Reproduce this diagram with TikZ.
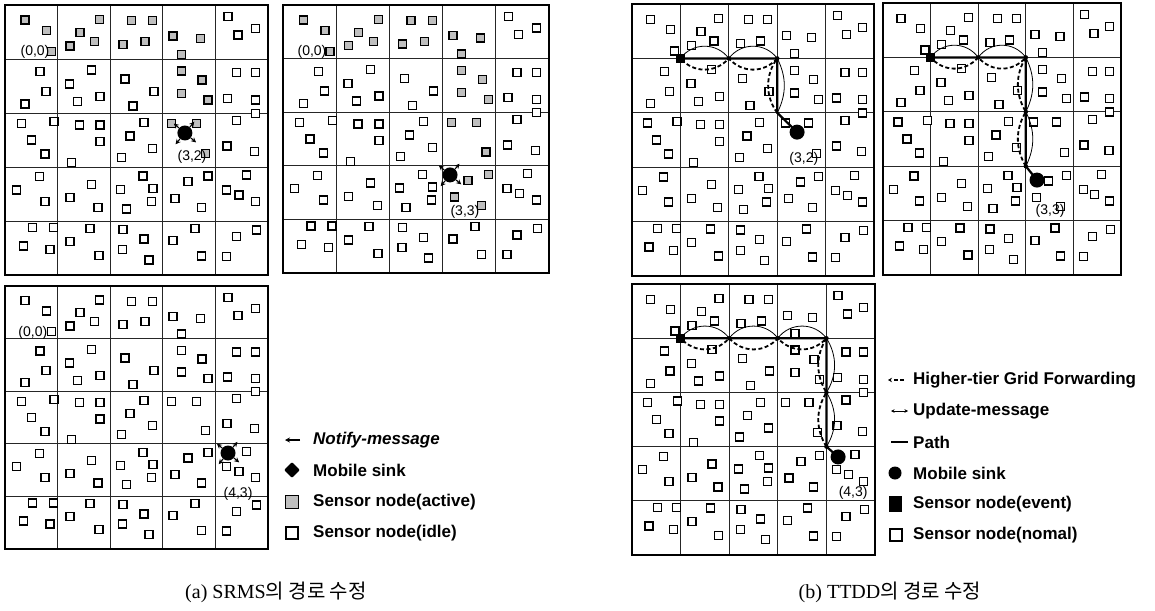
\documentclass[tikz,border=0pt]{standalone}
\usepackage{fontspec}
\setmainfont{Liberation Serif}
\setsansfont{Liberation Sans}
\newfontfamily\krfont{Noto Sans CJK KR}
\usetikzlibrary{arrows.meta,shapes.geometric}

% sensor layout of the field, in panel units (0..100)
\newcommand{\sensorlist}{7.6/5.6,15.8/9.5,17.7/17.3,35.8/5.3,28.5/10.2,33.9/13.6,24.7/15.2,48.1/5.8,56.1/5.8,53.2/13.6,44.9/14.6,63.9/11.5,74.3/12.3,67.1/18.3,84.8/4.3,95.3/8.6,88.6/11.1,
13.3/24.7,15.6/32.1,7.6/36.7,32.9/24.1,24.4/29.3,36.1/34.0,27.5/35.8,45.6/27.4,56.6/32.1,48.7/37.4,67.1/24.4,74.9/27.8,67.1/32.7,77.2/35.2,88.0/25.1,95.3/25.1,84.6/34.6,95.3/35.2,95.3/40.1,
6.3/43.8,18.6/43.2,10.1/50.0,15.2/55.2,28.2/44.4,36.1/44.4,36.1/50.6,25.3/58.4,52.8/43.6,47.5/48.5,56.1/53.1,44.3/56.4,63.3/43.8,72.8/43.8,76.3/54.9,88.0/42.8,84.4/52.2,94.9/54.3,
13.0/63.6,4.4/68.5,15.2/72.8,32.9/66.4,24.7/71.4,35.4/74.9,52.5/63.3,56.3/67.9,43.9/68.3,55.7/72.8,46.2/75.6,69.6/65.4,77.2/63.3,64.6/71.6,74.7/74.9,91.8/63.0,84.2/68.5,89.0/70.4,95.3/72.8,
10.5/82.5,18.4/82.5,7.0/89.3,17.1/90.5,32.3/82.7,24.7/87.7,35.7/92.7,44.9/83.1,52.8/86.7,44.7/90.5,54.8/94.4,72.2/82.7,63.9/87.3,74.7/93.0,95.6/83.3,88.0/85.8,84.2/93.2}

\newcommand{\sensors}[1]{%
  \foreach \u/\v in \sensorlist {\node[sensor,fill=#1] at (\u,\v) {};}%
}
\newcommand{\gridpanel}{%
  \foreach \k in {20,40,60,80} {%
    \draw[gridline] (\k,0) -- (\k,100);
    \draw[gridline] (0,\k) -- (100,\k);}%
  \draw[panelframe] (0,0) rectangle (100,100);%
}

\tikzset{
  sensor/.style={draw,line width=1.3pt,minimum size=8pt,inner sep=0pt},
  gridline/.style={line width=0.9pt,black!85},
  panelframe/.style={line width=2.8pt},
  sink/.style={circle,fill,minimum size=15pt,inner sep=0pt},
  notify/.style={-{Stealth[length=5pt,width=5pt]},line width=1.1pt},
  event/.style={fill,minimum size=9pt,inner sep=0pt},
  hop/.style={circle,fill,minimum size=4.5pt,inner sep=0pt},
  route/.style={line width=2.2pt},
  update/.style={line width=0.8pt},
  forward/.style={line width=1.8pt,dash pattern=on 4pt off 2.5pt},
  legendtext/.style={anchor=west,inner sep=0pt,font=\sffamily\bfseries\fontsize{17}{20}\selectfont},
  cellname/.style={inner sep=0pt,font=\sffamily\fontsize{14}{16}\selectfont},
  captext/.style={inner sep=0pt,font=\fontsize{20}{24}\selectfont}
}

\begin{document}
\begin{tikzpicture}[x=1pt,y=-1pt]
  \useasboundingbox (0,0) rectangle (1155,610);

  % (a) SRMS, sink at (3,2)
  \begin{scope}[shift={(5,5)},xscale=2.63,yscale=2.70]
    \gridpanel
    \sensors{white}
    \begin{scope}
      \clip (0,0) rectangle (80,20) (60,20) rectangle (80,60);
      \sensors{gray!50}
    \end{scope}
    \node[cellname] (a1o) at (11.4,17.4) {(0,0)};
    \node[sink] (a1sink) at (68.4,47.4) {};
    \foreach \a in {50,140,230,320} \draw[notify] (a1sink.\a) -- +(-\a:2.6);
    \node[cellname] (a1c) at (71.1,56.2) {(3,2)};
  \end{scope}

  % (a) SRMS, sink at (3,3)
  \begin{scope}[shift={(283,5)},xscale=2.66,yscale=2.68]
    \gridpanel
    \sensors{white}
    \begin{scope}
      \clip (0,0) rectangle (80,20) (60,20) rectangle (80,80);
      \sensors{gray!50}
    \end{scope}
    \node[cellname] (a2o) at (10.9,17.5) {(0,0)};
    \node[sink] (a2sink) at (62.8,63.4) {};
    \foreach \a in {50,140,230,320} \draw[notify] (a2sink.\a) -- +(-\a:2.6);
    \node[cellname] (a2c) at (68.4,77.2) {(3,3)};
  \end{scope}

  % (a) SRMS, sink at (4,3)
  \begin{scope}[shift={(5,286)},xscale=2.63,yscale=2.63]
    \gridpanel
    \sensors{white}
    \node[cellname] (a3o) at (10.6,17.9) {(0,0)};
    \node[sink] (a3sink) at (84.8,63.5) {};
    \foreach \a in {50,140,230,320} \draw[notify] (a3sink.\a) -- +(-\a:2.6);
    \node[cellname] (a3c) at (88.6,78.9) {(4,3)};
  \end{scope}

  % legend (a)
  \coordinate (la1) at (300,440);
  \coordinate (la1e) at (285,440);
  \draw[notify] (la1) -- (la1e);
  \node[diamond,fill,minimum size=16pt,inner sep=0pt,rounded corners=1pt] (la2) at (292,470) {};
  \node[sensor,fill=gray!50,minimum size=13pt] (la3) at (292,502) {};
  \node[sensor,fill=white,minimum size=12pt] (la4) at (292,533) {};
  \node[legendtext] at (313,440) {\itshape Notify-message};
  \node[legendtext] at (313,470) {Mobile sink};
  \node[legendtext] at (313,502) {Sensor node(active)};
  \node[legendtext] at (313,533) {Sensor node(idle)};

  % (b) TTDD, sink at (3,2)
  \begin{scope}[shift={(632,4)},xscale=2.42,yscale=2.72]
    \gridpanel
    \sensors{white}
    \coordinate (b1s) at (20,20);
    \coordinate (b1p1) at (40,20);
    \coordinate (b1p2) at (60,20);
    \coordinate (b1p3) at (60,40);
    \coordinate (b1k) at (68.2,47.1);
    \draw[route] (b1s) -- (b1p1) -- (b1p2) -- (b1p3) -- (b1k);
    \draw[update] (b1s) to[bend left=50] (b1p1) to[bend left=50] (b1p2) to[bend left=30] (b1p3);
    \draw[forward] (b1p3) to[bend left=40] (b1p2) to[bend left=45] (b1p1) to[bend left=45] (b1s);
    \node[event] (b1src) at (b1s) {};
    \node[hop] (b1h1) at (b1p1) {};
    \node[hop] (b1h2) at (b1p2) {};
    \node[sink] (b1sink) at (b1k) {};
    \node[cellname] (b1c) at (71,57) {(3,2)};
  \end{scope}

  % (b) TTDD, sink at (3,3)
  \begin{scope}[shift={(883,3)},xscale=2.38,yscale=2.72]
    \gridpanel
    \sensors{white}
    \coordinate (b2s) at (20,20);
    \coordinate (b2p1) at (40,20);
    \coordinate (b2p2) at (60,20);
    \coordinate (b2p3) at (60,40);
    \coordinate (b2p4) at (60,60);
    \coordinate (b2k) at (64.7,65.1);
    \draw[route] (b2s) -- (b2p1) -- (b2p2) -- (b2p3) -- (b2p4) -- (b2k);
    \draw[update] (b2s) to[bend left=50] (b2p1) to[bend left=50] (b2p2) to[bend left=30] (b2p3) to[bend left=30] (b2p4);
    \draw[forward] (b2p4) to[bend left=35] (b2p3) to[bend left=35] (b2p2) to[bend left=45] (b2p1) to[bend left=45] (b2s);
    \node[event] (b2src) at (b2s) {};
    \node[hop] (b2h1) at (b2p1) {};
    \node[hop] (b2h2) at (b2p2) {};
    \node[hop] (b2h3) at (b2p3) {};
    \node[hop] (b2h4) at (b2p4) {};
    \node[sink] (b2sink) at (b2k) {};
    \node[cellname] (b2c) at (70.2,76.5) {(3,3)};
  \end{scope}

  % (b) TTDD, sink at (4,3)
  \begin{scope}[shift={(632,284)},xscale=2.43,yscale=2.71]
    \gridpanel
    \sensors{white}
    \coordinate (b3s) at (20,20);
    \coordinate (b3p1) at (40,20);
    \coordinate (b3p2) at (60,20);
    \coordinate (b3p3) at (80,20);
    \coordinate (b3p4) at (80,40);
    \coordinate (b3p5) at (80,60);
    \coordinate (b3k) at (84.8,63.8);
    \draw[route] (b3s) -- (b3p1) -- (b3p2) -- (b3p3) -- (b3p4) -- (b3p5) -- (b3k);
    \draw[update] (b3s) to[bend left=50] (b3p1) to[bend left=50] (b3p2) to[bend left=50] (b3p3) to[bend left=35] (b3p4) to[bend left=35] (b3p5);
    \draw[forward] (b3p5) to[bend left=35] (b3p4) to[bend left=35] (b3p3) to[bend left=45] (b3p2) to[bend left=45] (b3p1) to[bend left=45] (b3s);
    \node[event] (b3src) at (b3s) {};
    \node[hop] (b3h1) at (b3p1) {};
    \node[hop] (b3h2) at (b3p2) {};
    \node[hop] (b3h3) at (b3p3) {};
    \node[hop] (b3h4) at (b3p4) {};
    \node[hop] (b3h5) at (b3p5) {};
    \node[sink] (b3sink) at (b3k) {};
    \node[cellname] (b3c) at (91,77) {(4,3)};
  \end{scope}

  % legend (b)
  \coordinate (lb1) at (904,380);
  \coordinate (lb1e) at (888,380);
  \draw[forward,line width=1.2pt,-{Stealth[length=4pt,width=4.5pt]}] (lb1) -- (lb1e);
  \coordinate (lb2) at (891,411);
  \coordinate (lb2e) at (908,411);
  \draw[update,{Stealth[length=3.5pt,width=3.5pt]}-{Stealth[length=3.5pt,width=3.5pt]}] (lb2) -- (lb2e);
  \coordinate (lb3) at (891,442);
  \coordinate (lb3e) at (908,442);
  \draw[line width=1.4pt] (lb3) -- (lb3e);
  \node[sink,minimum size=13pt] (lb4) at (895,473) {};
  \node[event,minimum width=13pt,minimum height=16pt] (lb5) at (895,504) {};
  \node[sensor,fill=white,minimum size=12pt] (lb6) at (896,535) {};
  \node[legendtext] at (913,380) {Higher-tier Grid Forwarding};
  \node[legendtext] at (913,411) {Update-message};
  \node[legendtext] at (913,442) {Path};
  \node[legendtext] at (913,473) {Mobile sink};
  \node[legendtext] at (913,504) {Sensor node(event)};
  \node[legendtext] at (913,535) {Sensor node(nomal)};

  % captions
  \node[captext] (capa) at (276,592) {(a) SRMS{\krfont 의 경로 수정}};
  \node[captext] (capb) at (890,592) {(b) TTDD{\krfont 의 경로 수정}};
\end{tikzpicture}
\end{document}
